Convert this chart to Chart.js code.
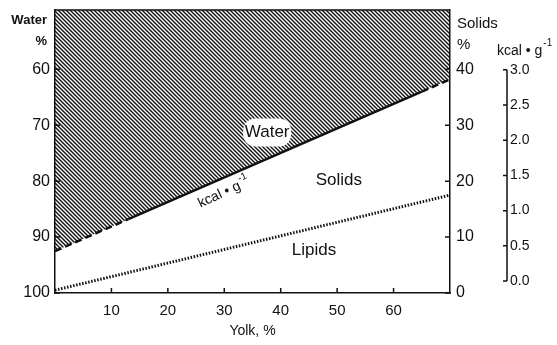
<!DOCTYPE html>
<html>
<head>
<meta charset="utf-8">
<script src="https://cdn.jsdelivr.net/npm/chart.js@4.4.1/dist/chart.umd.min.js"></script>
<style>
  html, body { margin: 0; padding: 0; background: #fff; }
  canvas { display: block; }
</style>
</head>
<body>
<canvas id="myChart" width="557" height="345"></canvas>
<script>
// values
const yolk = [0, 13, 65, 70];
const waterPct = [92.5, 86.8, 64.0, 61.8];
const lipidYolk = [0, 70];
const lipidSolids = [0.5, 17.5];

const yolkTicks = [10, 20, 30, 40, 50, 60];
const waterTicks = [60, 70, 80, 90, 100];
const solidsTicks = [0, 10, 20, 30, 40];
const kcalTicks = [0, 0.5, 1.0, 1.5, 2.0, 2.5, 3.0];

const FONT = "'Liberation Sans', Arial, sans-serif";
const INK = "#111";

// hatch for the water region
function makeHatch(ctx) {
  let c = document.createElement("canvas");
  c.width = 4;
  c.height = 4;
  let g = c.getContext("2d");
  g.strokeStyle = INK;
  g.lineWidth = 1.4;
  g.beginPath();
  g.moveTo(-1, -1); g.lineTo(5, 5);
  g.moveTo(3, -1); g.lineTo(5, 1);
  g.moveTo(-1, 3); g.lineTo(1, 5);
  g.stroke();
  return ctx.createPattern(c, "repeat");
}

function fixTicks(values) {
  return (scale) => {
    scale.ticks = values.map((v) => ({ value: v }));
  };
}

// fixed axis width, no extra padding for edge labels
function fixWidth(w) {
  return (sc) => {
    sc.width = w;
    sc.paddingTop = 0;
    sc.paddingBottom = 0;
  };
}

// inward tick marks, extra labels, kcal axis line
const decorations = {
  id: "decorations",
  afterDraw(chart) {
    const ctx = chart.ctx;
    const s = chart.scales;
    const area = chart.chartArea;
    ctx.save();
    ctx.strokeStyle = INK;
    ctx.fillStyle = INK;
    ctx.lineWidth = 1.5;

    // top border of the frame
    ctx.beginPath();
    ctx.moveTo(area.left, area.top);
    ctx.lineTo(area.right, area.top);
    ctx.stroke();

    ctx.beginPath();
    yolkTicks.forEach((v) => {
      let px = s.x.getPixelForValue(v);
      ctx.moveTo(px, area.bottom);
      ctx.lineTo(px, area.bottom - 5);
    });
    waterTicks.forEach((v) => {
      let py = s.yW.getPixelForValue(v);
      ctx.moveTo(area.left, py);
      ctx.lineTo(area.left + 5, py);
    });
    solidsTicks.forEach((v) => {
      let py = s.yS.getPixelForValue(v);
      ctx.moveTo(area.right, py);
      ctx.lineTo(area.right - 5, py);
    });
    // kcal axis line only between 0 and 3
    let kx = s.yK.left;
    ctx.moveTo(kx, s.yK.getPixelForValue(kcalTicks[0]));
    ctx.lineTo(kx, s.yK.getPixelForValue(kcalTicks[kcalTicks.length - 1]));
    kcalTicks.forEach((v) => {
      let py = s.yK.getPixelForValue(v);
      ctx.moveTo(kx, py);
      ctx.lineTo(kx - 4, py);
    });
    ctx.stroke();

    // axis headers
    ctx.textBaseline = "middle";
    ctx.font = "bold 13px " + FONT;
    ctx.textAlign = "right";
    ctx.fillText("Water", area.left - 8, area.top + 10);
    ctx.fillText("%", area.left - 8, area.top + 31);
    ctx.textAlign = "left";
    ctx.font = "15px " + FONT;
    ctx.fillText("Solids", area.right + 7, area.top + 14);
    ctx.fillText("%", area.right + 7, area.top + 35);
    ctx.font = "14px " + FONT;
    ctx.fillText("kcal \u2022 g", kx - 10, area.top + 41);
    let w = ctx.measureText("kcal \u2022 g").width;
    ctx.font = "10px " + FONT;
    ctx.fillText("-1", kx - 9 + w, area.top + 33);

    // labels in the plot
    ctx.textAlign = "center";
    ctx.font = "17px " + FONT;
    let wx = s.x.getPixelForValue(37.6);
    let wy = s.yW.getPixelForValue(71.3);
    ctx.fillStyle = "#fff";
    ctx.beginPath();
    ctx.roundRect(wx - 24, wy - 14, 48, 28, 12);
    ctx.fill();
    ctx.fillStyle = INK;
    ctx.fillText("Water", wx, wy);
    ctx.fillText("Solids", s.x.getPixelForValue(50.3), s.yW.getPixelForValue(79.8));
    ctx.fillText("Lipids", s.x.getPixelForValue(45.9), s.yW.getPixelForValue(92.3));

    // kcal label along the line
    ctx.translate(s.x.getPixelForValue(29.6), s.yW.getPixelForValue(82.2));
    ctx.rotate(-25 * Math.PI / 180);
    ctx.font = "14px " + FONT;
    ctx.textAlign = "left";
    let w2 = ctx.measureText("kcal \u2022 g").width;
    ctx.fillText("kcal \u2022 g", -w2 / 2 - 3, 0);
    ctx.font = "10px " + FONT;
    ctx.fillText("-1", w2 / 2 - 2, -6);
    ctx.restore();
  },
};

const ctx = document.getElementById("myChart");
const hatch = makeHatch(ctx.getContext("2d"));

const dashed = (c) => (c.p1.parsed.x <= yolk[1] || c.p0.parsed.x >= yolk[2] ? [7, 4] : undefined);
const waterPoints = yolk.map((x, i) => ({ x: x, y: waterPct[i] }));

new Chart(ctx, {
  type: "line",
  data: {
    datasets: [
      {
        label: "Water area",
        data: waterPoints,
        yAxisID: "yW",
        borderWidth: 0,
        borderColor: "rgba(0,0,0,0)",
        backgroundColor: hatch,
        fill: "end",
        pointRadius: 0,
        tension: 0,
      },
      {
        label: "Water",
        data: waterPoints,
        yAxisID: "yW",
        borderColor: INK,
        borderWidth: 2.5,
        fill: false,
        pointRadius: 0,
        tension: 0,
        segment: { borderDash: dashed },
      },
      {
        label: "Lipids",
        data: lipidYolk.map((x, i) => ({ x: x, y: lipidSolids[i] })),
        yAxisID: "yS",
        borderColor: INK,
        borderWidth: 3,
        borderDash: [1.5, 1.6],
        fill: false,
        pointRadius: 0,
      },
    ],
  },
  options: {
    responsive: false,
    animation: false,
    devicePixelRatio: 1,
    layout: { padding: { top: 10, left: 0, right: 0, bottom: 0 } },
    plugins: { legend: { display: false }, tooltip: { enabled: false } },
    scales: {
      x: {
        type: "linear",
        position: "bottom",
        min: 0,
        max: 70,
        afterBuildTicks: fixTicks(yolkTicks),
        afterFit: (sc) => { sc.height = 52; sc.paddingLeft = 0; sc.paddingRight = 0; },
        grid: { drawOnChartArea: false, drawTicks: false },
        border: { color: INK, width: 1.5 },
        ticks: { color: INK, padding: 9, font: { family: FONT, size: 15 } },
        title: {
          display: true,
          text: "Yolk, %",
          color: INK,
          font: { family: FONT, size: 14 },
          padding: { top: 0, bottom: 5 },
        },
      },
      yW: {
        type: "linear",
        position: "left",
        reverse: true,
        min: 49.4,
        max: 100,
        afterBuildTicks: fixTicks(waterTicks),
        afterFit: fixWidth(55),
        grid: { drawOnChartArea: false, drawTicks: false },
        border: { color: INK, width: 1.5 },
        ticks: { color: INK, padding: 5, font: { family: FONT, size: 16 } },
      },
      yS: {
        type: "linear",
        position: "right",
        weight: 0,
        min: 0,
        max: 50.6,
        afterBuildTicks: fixTicks(solidsTicks),
        afterFit: fixWidth(57),
        grid: { drawOnChartArea: false, drawTicks: false },
        border: { color: INK, width: 1.5 },
        ticks: { color: INK, padding: 6, font: { family: FONT, size: 16 } },
      },
      yK: {
        type: "linear",
        position: "right",
        weight: 1,
        min: -0.17,
        max: 3.85,
        afterBuildTicks: fixTicks(kcalTicks),
        afterFit: fixWidth(50),
        grid: { drawOnChartArea: false, drawTicks: false },
        border: { display: false },
        ticks: {
          color: INK,
          padding: 3,
          font: { family: FONT, size: 14 },
          callback: (v) => v.toFixed(1),
        },
      },
    },
  },
  plugins: [decorations],
});
</script>
</body>
</html>
